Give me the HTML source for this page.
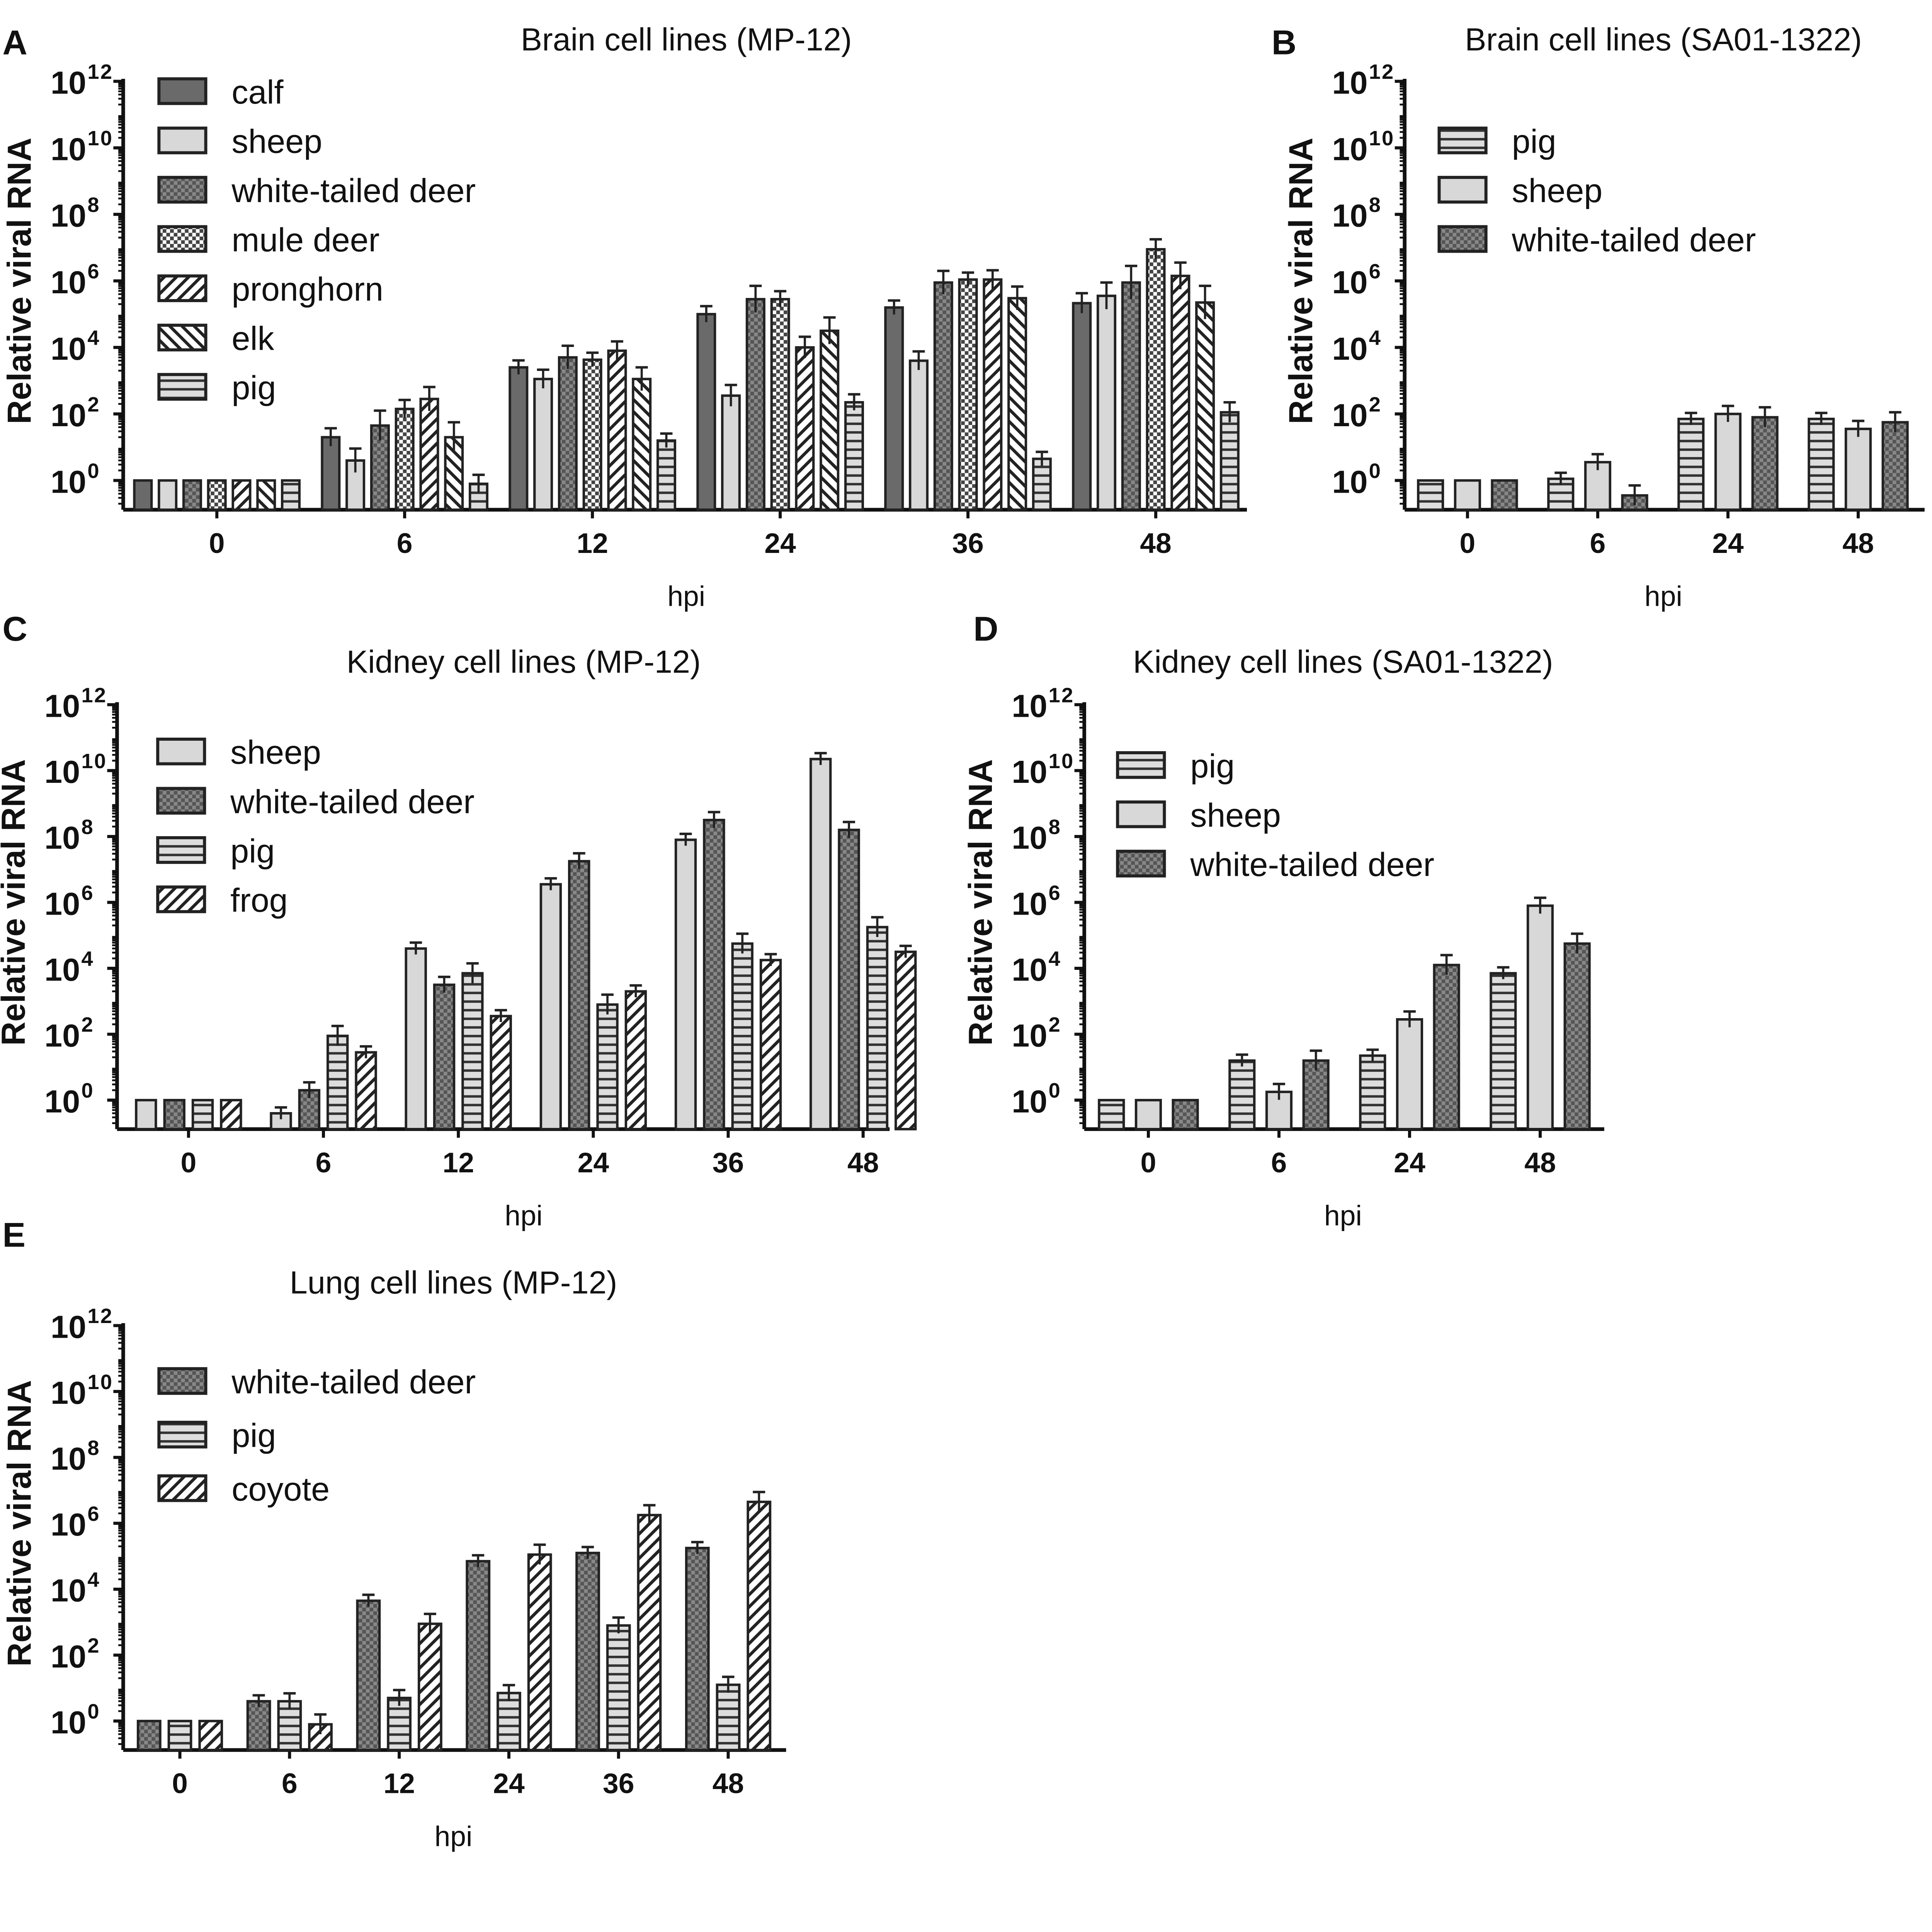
<!DOCTYPE html>
<html><head><meta charset="utf-8"><style>
html,body{margin:0;padding:0;background:#fff;overflow:hidden}
svg{display:block;width:100vw;height:96.477vw}
text{font-family:"Liberation Sans",Arial,sans-serif;fill:#111}
</style></head><body>
<svg id="fig" xmlns="http://www.w3.org/2000/svg" viewBox="0 0 1568 1513" preserveAspectRatio="none">
<defs>
<pattern id="p-wtd" patternUnits="userSpaceOnUse" width="6" height="6"><rect width="6" height="6" fill="#555"/><rect width="3" height="3" fill="#888"/><rect x="3" y="3" width="3" height="3" fill="#888"/></pattern>
<pattern id="p-mule" patternUnits="userSpaceOnUse" width="6" height="6"><rect width="6" height="6" fill="#fff"/><rect width="3" height="3" fill="#444"/><rect x="3" y="3" width="3" height="3" fill="#444"/></pattern>
<pattern id="p-fwd" patternUnits="userSpaceOnUse" width="7" height="7" patternTransform="rotate(45)"><rect width="7" height="7" fill="#fff"/><rect width="2.5" height="7" fill="#222"/></pattern>
<pattern id="p-back" patternUnits="userSpaceOnUse" width="7" height="7" patternTransform="rotate(-45)"><rect width="7" height="7" fill="#fff"/><rect width="2.5" height="7" fill="#222"/></pattern>
<pattern id="p-horiz" patternUnits="userSpaceOnUse" width="6" height="7"><rect width="6" height="7" fill="#ddd"/><rect y="0" width="6" height="2" fill="#333"/></pattern>
</defs>
</svg>
<script>
// ---- data (log10 relative viral RNA) ----
const groupsA = ["0","6","12","24","36","48"];
const seriesA = ["calf","sheep","white-tailed deer","mule deer","pronghorn","elk","pig"];
const calfA = [0,1.3,3.4,5.0,5.2,5.33];
const sheepA = [0,0.6,3.05,2.55,3.6,5.55];
const wtdA = [0,1.65,3.7,5.45,5.95,5.95];
const muleA = [0,2.15,3.63,5.45,6.04,6.95];
const pronghornA = [0,2.45,3.9,4.0,6.04,6.15];
const elkA = [0,1.3,3.05,4.5,5.48,5.35];
const pigA = [0,-0.1,1.2,2.35,0.65,2.05];
const errA = [0.5,0.45,0.35,0.4,0.35,0.5];

const groupsB = ["0","6","24","48"];
const seriesB = ["pig","sheep","white-tailed deer"];
const pigB = [0,0.05,1.85,1.85];
const sheepB = [0,0.55,2.0,1.55];
const wtdB = [0,-0.45,1.9,1.75];

const groupsC = ["0","6","12","24","36","48"];
const seriesC = ["sheep","white-tailed deer","pig","frog"];
const sheepC = [0,-0.4,4.6,6.55,7.9,10.35];
const wtdC = [0,0.3,3.5,7.25,8.5,8.2];
const pigC = [0,1.95,3.85,2.9,4.75,5.25];
const frogC = [0,1.45,2.55,3.3,4.25,4.5];

const groupsD = ["0","6","24","48"];
const seriesD = ["pig","sheep","white-tailed deer"];
const pigD = [0,1.2,1.35,3.85];
const sheepD = [0,0.25,2.45,5.9];
const wtdD = [0,1.2,4.1,4.75];

const groupsE = ["0","6","12","24","36","48"];
const seriesE = ["white-tailed deer","pig","coyote"];
const wtdE = [0,0.6,3.65,4.85,5.1,5.25];
const pigE = [0,0.6,0.7,0.85,2.9,1.1];
const coyoteE = [0,-0.1,2.95,5.05,6.25,6.65];

const yTicks = [0,2,4,6,8,10,12];

const fills = {"calf":"#6a6a6a","sheep":"#d8d8d8","white-tailed deer":"url(#p-wtd)","mule deer":"url(#p-mule)","pronghorn":"url(#p-fwd)","elk":"url(#p-back)","pig":"url(#p-horiz)","frog":"url(#p-fwd)","coyote":"url(#p-fwd)"};

const NS="http://www.w3.org/2000/svg";
const svg=document.getElementById('fig');
function mk(tag,attrs,parent){const e=document.createElementNS(NS,tag);for(const k in attrs)e.setAttribute(k,attrs[k]);(parent||svg).appendChild(e);return e;}

function panel(cfg){
  const g=mk('g',{});
  
  
  const dec=(cfg.y0-cfg.y12)/12;
  const yS=v=>cfg.y0-v*dec;
  const bottom=yS(-0.88);
  const L=mk('text',{x:cfg.lx,y:cfg.ly,'font-size':28,'font-weight':'bold'},g);L.textContent=cfg.letter;
  
  
  const T=mk('text',{x:cfg.tx,y:cfg.ty,'font-size':26,'text-anchor':'middle'},g);T.textContent=cfg.title;
  
  
  const yl=mk('text',{x:0,y:0,'font-size':27,'font-weight':'bold','text-anchor':'middle',transform:`translate(${cfg.ax-75},${(cfg.y12+cfg.y0)/2}) rotate(-90)`},g);yl.textContent="Relative viral RNA";
  
  
  mk('line',{x1:cfg.ax,y1:cfg.y12-2,x2:cfg.ax,y2:bottom,stroke:'#111','stroke-width':3},g);
  mk('line',{x1:cfg.ax,y1:bottom,x2:cfg.axEnd,y2:bottom,stroke:'#111','stroke-width':3},g);
  for(let d=-1;d<12;d++){for(let k=2;k<=9;k++){const v=d+Math.log10(k);if(v<-0.88)continue;const y=yS(v);mk('line',{x1:cfg.ax-4,y1:y,x2:cfg.ax,y2:y,stroke:'#111','stroke-width':1.5},g);}}
  yTicks.forEach(t=>{const y=yS(t);mk('line',{x1:cfg.ax-8,y1:y,x2:cfg.ax,y2:y,stroke:'#111','stroke-width':2.5},g);
    const tx=mk('text',{x:cfg.ax-30,y:y+10,'font-size':26,'font-weight':'bold','text-anchor':'end'},g);tx.textContent="10";
    
    
    const sp=mk('text',{x:cfg.ax-29,y:y-2,'font-size':17,'font-weight':'bold','letter-spacing':'1'},g);sp.textContent=String(t);
    
    
  });
  const n=cfg.series.length;
  cfg.groups.forEach((gl,i)=>{
    const cx=cfg.gx0+i*cfg.gstep;
    mk('line',{x1:cx,y1:bottom,x2:cx,y2:bottom+7,stroke:'#111','stroke-width':2.5},g);
    const xt=mk('text',{x:cx,y:bottom+35,'font-size':23,'font-weight':'bold','text-anchor':'middle'},g);xt.textContent=gl;
    
    
    cfg.series.forEach((s,j)=>{
      const v=cfg.data[j][i];
      const bx=cx+(j-(n-1)/2)*cfg.bstep-cfg.bw/2;
      const top=yS(v);
      const r=mk('rect',{x:bx,y:top,width:cfg.bw,height:bottom-top,fill:fills[s],stroke:'#222','stroke-width':2},g);
      
      
      if(i>0){const e=(cfg.err?cfg.err[i]:0.3)*(0.6+0.4*((j%3)/2));const ey=yS(v+e);const bc=bx+cfg.bw/2;
        mk('line',{x1:bc,y1:top+(top-ey),x2:bc,y2:ey,stroke:'#222','stroke-width':1.8},g);
        mk('line',{x1:bc-5,y1:ey,x2:bc+5,y2:ey,stroke:'#222','stroke-width':2},g);}
    });
  });
  cfg.series.forEach((s,j)=>{
    const y=cfg.legY+j*cfg.legStep;
    const lr=mk('rect',{x:cfg.legX,y:y-10,width:38,height:20,fill:fills[s],stroke:'#222','stroke-width':2.5},g);
    
    
    const lt=mk('text',{x:cfg.legX+59,y:y+10,'font-size':27},g);lt.textContent=s;
    
    
  });
  const h=mk('text',{x:cfg.tx,y:bottom+78,'font-size':23,'text-anchor':'middle'},g);h.textContent="hpi";
  
  
}

panel({id:'a',letter:'A',lx:2,ly:44,title:'Brain cell lines (MP-12)',tx:557,ty:41,ax:100,axEnd:1012,y12:66,y0:390,
  groups:groupsA,series:seriesA,data:[calfA,sheepA,wtdA,muleA,pronghornA,elkA,pigA],err:errA,gx0:176,gstep:152.4,bstep:20,bw:14,legX:129,legY:74,legStep:40});
panel({id:'b',letter:'B',lx:1032,ly:44,title:'Brain cell lines (SA01-1322)',tx:1350,ty:41,ax:1140,axEnd:1562,y12:66,y0:390,
  groups:groupsB,series:seriesB,data:[pigB,sheepB,wtdB],gx0:1191,gstep:105.7,bstep:30,bw:20,legX:1168,legY:114,legStep:40});
panel({id:'c',letter:'C',lx:2,ly:520,title:'Kidney cell lines (MP-12)',tx:425,ty:546,ax:95,axEnd:722,y12:572,y0:893,
  groups:groupsC,series:seriesC,data:[sheepC,wtdC,pigC,frogC],gx0:153,gstep:109.5,bstep:23,bw:16,legX:128,legY:610,legStep:40});
panel({id:'d',letter:'D',lx:790,ly:520,title:'Kidney cell lines (SA01-1322)',tx:1090,ty:546,ax:880,axEnd:1302,y12:572,y0:893,
  groups:groupsD,series:seriesD,data:[pigD,sheepD,wtdD],gx0:932,gstep:106,bstep:30,bw:20,legX:907,legY:621,legStep:40});
panel({id:'e',letter:'E',lx:2,ly:1012,title:'Lung cell lines (MP-12)',tx:368,ty:1050,ax:100,axEnd:638,y12:1076,y0:1397,
  groups:groupsE,series:seriesE,data:[wtdE,pigE,coyoteE],gx0:146,gstep:89,bstep:25,bw:18,legX:129,legY:1121,legStep:43.5});
</script>
</body></html>
